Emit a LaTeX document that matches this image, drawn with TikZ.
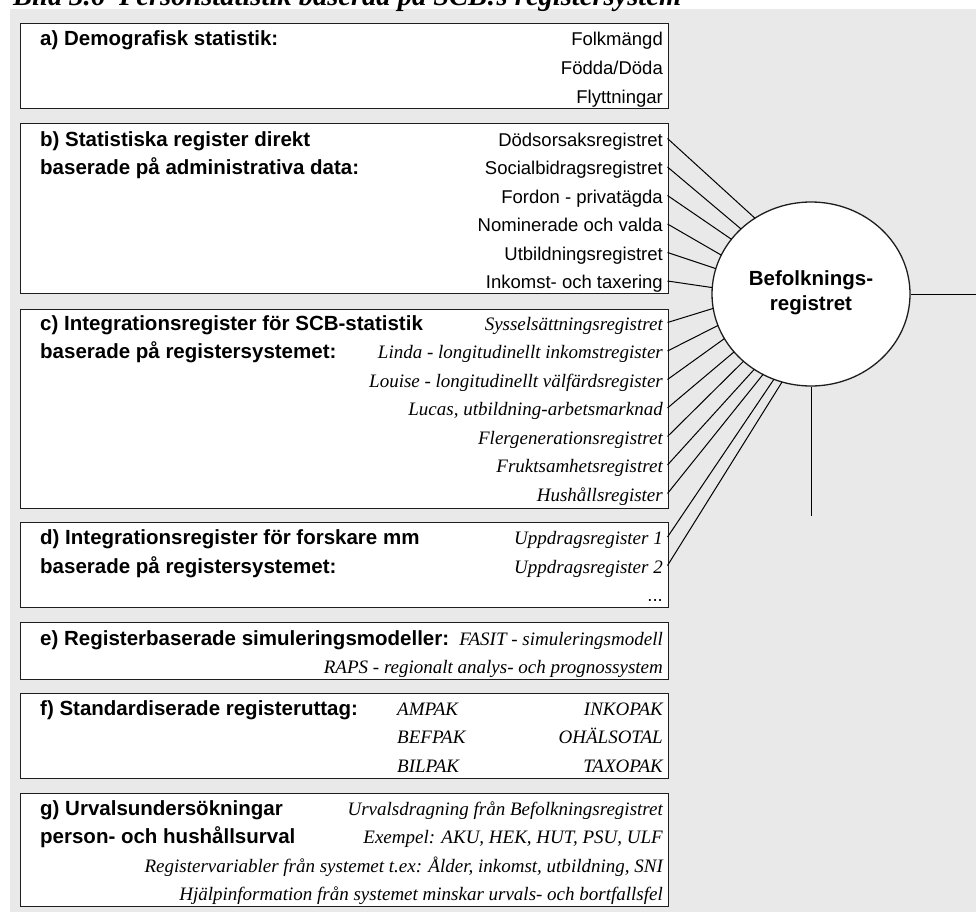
\documentclass[tikz,border=0pt]{standalone}
\usepackage{fontspec}
\setmainfont{Liberation Sans}
\newfontfamily\regserif{Liberation Serif}
\usetikzlibrary{shapes.geometric,calc}
\definecolor{panelgrey}{RGB}{233,233,233}
\definecolor{frame}{RGB}{30,30,30}

\begin{document}
\begin{tikzpicture}[x=1pt,y=-1pt,
  panel/.style={draw=frame, line width=1.3pt, fill=white, inner sep=0pt, anchor=north west},
  head/.style={anchor=base west, inner sep=0pt, font=\fontsize{20.5}{24}\selectfont\bfseries},
  item/.style={anchor=base east, inner xsep=4.5pt, inner ysep=0pt, text height=15pt, text depth=0pt,
               font=\fontsize{18.5}{22}\selectfont},
  itemit/.style={item, font=\fontsize{19}{22}\selectfont\regserif\itshape},
  itemleft/.style={anchor=base west, inner sep=0pt, font=\fontsize{19}{22}\selectfont\regserif\itshape},
  link/.style={line width=1pt, black}]

\useasboundingbox (0,0) rectangle (976,915);
\fill[panelgrey] (10,9) rectangle (976,912);

% title, partly above the page
\node[anchor=base west, inner sep=0pt, font=\fontsize{28.5}{32}\selectfont\regserif\bfseries\itshape]
  (title) at (13,6) {Bild 3.6\hspace{14pt}Personstatistik baserad på SCB:s registersystem};

% panels
\node[panel, minimum width=648pt, minimum height=85pt]  (boxA) at (20,23)  {};
\node[panel, minimum width=648pt, minimum height=170pt] (boxB) at (20,123) {};
\node[panel, minimum width=648pt, minimum height=199pt] (boxC) at (20,309) {};
\node[panel, minimum width=648pt, minimum height=85pt]  (boxD) at (20,522) {};
\node[panel, minimum width=648pt, minimum height=57pt]  (boxE) at (20,622) {};
\node[panel, minimum width=648pt, minimum height=85pt]  (boxF) at (20,693) {};
\node[panel, minimum width=648pt, minimum height=113pt] (boxG) at (20,793) {};

% a) demographic statistics
\node[head] (hA) at (40,46) {a) Demografisk statistik:};
\node[item] (a1) at (667.5,46)   {Folkmängd};
\node[item] (a2) at (667.5,74.5) {Födda/Döda};
\node[item] (a3) at (667.5,103)  {Flyttningar};

% b) registers from administrative data
\node[head] (hB1) at (40,146)   {b) Statistiska register direkt};
\node[head] (hB2) at (40,174.5) {baserade på administrativa data:};
\node[item] (b1) at (667.5,146)   {Dödsorsaksregistret};
\node[item] (b2) at (667.5,174.5) {Socialbidragsregistret};
\node[item] (b3) at (667.5,203)   {Fordon - privatägda};
\node[item] (b4) at (667.5,231.5) {Nominerade och valda};
\node[item] (b5) at (667.5,260)   {Utbildningsregistret};
\node[item] (b6) at (667.5,288.5) {Inkomst- och taxering};

% c) integration registers for statistics
\node[head] (hC1) at (40,330)   {c) Integrationsregister för SCB-statistik};
\node[head] (hC2) at (40,358.5) {baserade på registersystemet:};
\node[itemit] (c1) at (667.5,330)   {Sysselsättningsregistret};
\node[itemit] (c2) at (667.5,358.5) {Linda - longitudinellt inkomstregister};
\node[itemit] (c3) at (667.5,387)   {Louise - longitudinellt välfärdsregister};
\node[itemit] (c4) at (667.5,415.5) {Lucas, utbildning-arbetsmarknad};
\node[itemit] (c5) at (667.5,444)   {Flergenerationsregistret};
\node[itemit] (c6) at (667.5,472.5) {Fruktsamhetsregistret};
\node[itemit] (c7) at (667.5,501)   {Hushållsregister};

% d) integration registers for research
\node[head] (hD1) at (40,544.5) {d) Integrationsregister för forskare mm};
\node[head] (hD2) at (40,573)   {baserade på registersystemet:};
\node[itemit] (d1) at (667.5,544.5) {Uppdragsregister 1};
\node[itemit] (d2) at (667.5,573)   {Uppdragsregister 2};
\node[item]   (d3) at (667.5,601.5) {...};

% e) simulation models
\node[head] (hE) at (40,645) {e) Registerbaserade simuleringsmodeller:};
\node[itemit] (e1) at (667.5,645)   {FASIT - simuleringsmodell};
\node[itemit] (e2) at (667.5,673.5) {RAPS - regionalt analys- och prognossystem};

% f) standard extracts
\node[head] (hF) at (40,715) {f) Standardiserade registeruttag:};
\node[itemleft] (f1) at (397,715)   {AMPAK};
\node[itemleft] (f2) at (397,743.5) {BEFPAK};
\node[itemleft] (f3) at (397,772)   {BILPAK};
\node[itemit] (f4) at (667.5,715)   {INKOPAK};
\node[itemit] (f5) at (667.5,743.5) {OHÄLSOTAL};
\node[itemit] (f6) at (667.5,772)   {TAXOPAK};

% g) sample surveys
\node[head] (hG1) at (40,815)   {g) Urvalsundersökningar};
\node[head] (hG2) at (40,843.5) {person- och hushållsurval};
\node[itemit] (g1) at (667.5,815)   {Urvalsdragning från Befolkningsregistret};
\node[itemit] (g2) at (667.5,843.5) {Exempel: AKU, HEK, HUT, PSU, ULF};
\node[itemit] (g3) at (667.5,872)   {Registervariabler från systemet t.ex: Ålder, inkomst, utbildning, SNI};
\node[itemit] (g4) at (667.5,900.5) {Hjälpinformation från systemet minskar urvals- och bortfallsfel};

% central register
\node[draw=frame, ellipse, line width=1.3pt, fill=white, minimum width=198pt, minimum height=184pt,
      inner sep=0pt] (reg) at (811,294) {};
\node[anchor=base, inner sep=0pt, font=\fontsize{20.5}{24}\selectfont\bfseries] (regA) at (811,285) {Befolknings-};
\node[anchor=base, inner sep=0pt, font=\fontsize{20.5}{24}\selectfont\bfseries] (regB) at (811,310) {registret};

% connectors into the register
\foreach \n/\a in {b1/124.5, b2/135, b3/143.5, b4/155, b5/164, b6/176,
                   c1/189, c2/200, c3/209, c4/219, c5/227, c6/235, c7/241,
                   d1/248, d2/253}
  \draw[link] (\n.east) -- ($(reg.center)+(-\a:99 and 92)$);

\coordinate (rEnd) at (976,294);
\coordinate (dEnd) at (811,516);
\draw[link] (reg.east) -- (rEnd);
\draw[link] (reg.south) -- (dEnd);
\end{tikzpicture}
\end{document}
